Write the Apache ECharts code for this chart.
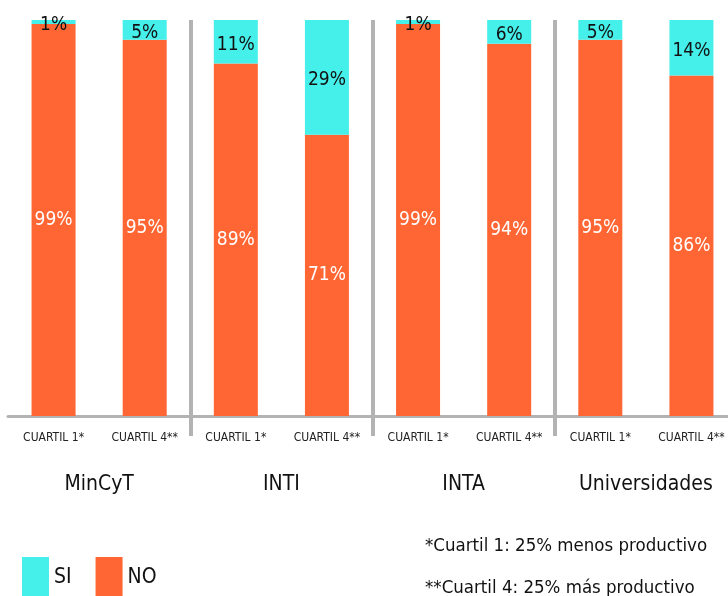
<!DOCTYPE html>
<html>
<head>
<meta charset="utf-8">
<script src="https://cdn.jsdelivr.net/npm/echarts@6/dist/echarts.min.js"></script>
<style>
  html, body { margin: 0; padding: 0; background: #fff; overflow: hidden; }
  #chart { width: 737px; height: 596px; }
</style>
</head>
<body>
<div id="chart"></div>
<script>
var chart = echarts.init(document.getElementById('chart'));

var cuartiles = ['CUARTIL 1*', 'CUARTIL 4**', 'CUARTIL 1*', 'CUARTIL 4**',
                 'CUARTIL 1*', 'CUARTIL 4**', 'CUARTIL 1*', 'CUARTIL 4**'];
var grupos = ['MinCyT', 'INTI', 'INTA', 'Universidades'];
var valoresSi = [1, 5, 11, 29, 1, 6, 5, 14];
var valoresNo = [99, 95, 89, 71, 99, 94, 95, 86];
var notas = ['*Cuartil 1: 25% menos productivo', '**Cuartil 4: 25% más productivo'];

var fuente = '"Liberation Sans Narrow", "DejaVu Sans Condensed", "DejaVu Sans", sans-serif';
var estiro = 'condensed'; // font-stretch dentro del shorthand
var gris = '#b3b3b3';
// separadores entre grupos
var esSeparador = function (i) { return i === 2 || i === 4 || i === 6; };

var option = {
  animation: false,
  backgroundColor: '#fff',
  grid: { left: 8, right: 0, top: 20, bottom: 180 },
  legend: {
    data: ['SI', 'NO'],
    left: 22,
    top: 557,
    padding: 0,
    itemWidth: 27,
    itemHeight: 42,
    itemGap: 24,
    icon: 'rect',
    textStyle: { fontSize: 21, color: '#111', fontFamily: fuente, fontStyle: estiro }
  },
  xAxis: [{
    type: 'category',
    data: cuartiles,
    axisLine: { lineStyle: { color: gris, width: 3 } },
    axisTick: { show: true, interval: esSeparador, length: 20, lineStyle: { color: gris, width: 4 } },
    splitLine: { show: true, interval: esSeparador, lineStyle: { color: gris, width: 4 } },
    axisLabel: { fontSize: 12, color: '#222', margin: 16, interval: 0, fontFamily: fuente, fontStyle: estiro }
  }, {
    type: 'category',
    data: grupos,
    position: 'bottom',
    offset: 50,
    axisLine: { show: false },
    axisTick: { show: false },
    axisLabel: { fontSize: 21, color: '#111', interval: 0, fontFamily: fuente, fontStyle: estiro }
  }],
  yAxis: {
    type: 'value',
    min: 0,
    max: 100,
    show: false
  },
  series: [{
    name: 'NO',
    type: 'bar',
    stack: 'total',
    barWidth: 44,
    data: valoresNo,
    itemStyle: { color: '#ff6633' },
    label: { show: true, position: 'inside', formatter: '{c}%', color: '#fff', fontSize: 19, fontFamily: fuente, fontStyle: estiro }
  }, {
    name: 'SI',
    type: 'bar',
    stack: 'total',
    barWidth: 44,
    data: valoresSi,
    itemStyle: { color: '#45efea' },
    label: { show: true, position: 'inside', offset: [0, 3], formatter: '{c}%', color: '#111', fontSize: 19, fontFamily: fuente, fontStyle: estiro }
  }],
  graphic: [{
    type: 'text',
    left: 425,
    top: 537,
    style: { text: notas[0], fontSize: 18.5, fill: '#111', fontFamily: fuente, fontStyle: estiro }
  }, {
    type: 'text',
    left: 425,
    top: 579,
    style: { text: notas[1], fontSize: 18.5, fill: '#111', fontFamily: fuente, fontStyle: estiro }
  }]
};
chart.setOption(option);
</script>
</body>
</html>
